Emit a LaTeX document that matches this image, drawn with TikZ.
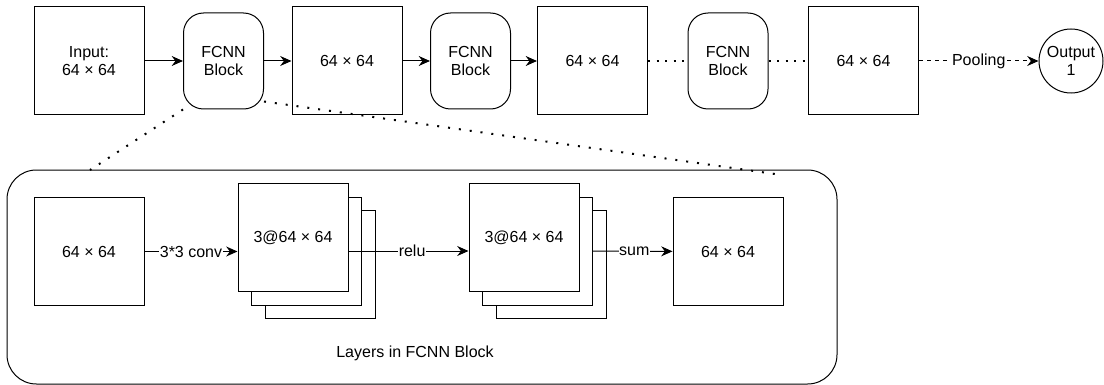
\documentclass[tikz,border=0pt]{standalone}
\usepackage{fontspec}
\setmainfont{Liberation Sans}
\usetikzlibrary{arrows.meta}

\tikzset{
  sqbox/.style={draw, line width=0.75pt, fill=white, minimum width=82.5pt,
    minimum height=81pt, inner sep=0pt, align=center},
  fcnn/.style={draw, line width=0.75pt, rounded corners=15pt, minimum width=60pt,
    minimum height=72pt, inner sep=0pt, align=center},
  arr/.style={line width=0.75pt, -{Stealth[length=8.5pt, width=7.5pt, inset=2.8pt]}},
  dotrow/.style={line width=1.5pt, dash pattern=on 1.5pt off 4.9pt},
  dotzoom/.style={line width=1.5pt, dash pattern=on 1.5pt off 6.7pt},
  elabel/.style={fill=white, inner sep=0.5pt},
}

\begin{document}
\begin{tikzpicture}[x=0.75pt, y=-0.75pt, font=\fontsize{12pt}{14pt}\selectfont]
\useasboundingbox (0,0) rectangle (1104,385);

% Main pipeline
\node[sqbox] (inp) at (89,61) {Input:\\64 × 64};
\node[fcnn] (fA) at (223.5,61) {FCNN\\Block};
\node[sqbox] (bA) at (347,61) {64 × 64};
\node[fcnn] (fB) at (470.5,61) {FCNN\\Block};
\node[sqbox] (bB) at (592.5,61) {64 × 64};
\node[fcnn] (fC) at (728,61) {FCNN\\Block};
\node[sqbox] (bC) at (863.5,61) {64 × 64};
\node[draw, circle, line width=0.75pt, minimum size=48pt, inner sep=0pt, align=center]
  (out) at (1071,61) {Output\\1};

\draw[arr] (inp) -- (fA);
\draw[arr] (fA) -- (bA);
\draw[arr] (bA) -- (fB);
\draw[arr] (fB) -- (bB);
\draw[dotrow] (bB) -- (fC);
\draw[dotrow] (fC) -- (bC);
\draw[arr, dash pattern=on 3pt off 3pt] (bC) -- node[elabel] {Pooling} (out);

% Zoomed view of one block
\node[draw, line width=0.75pt, rounded corners=22pt, minimum width=622.5pt,
  minimum height=160.5pt] (zoom) at (422,277) {};
\coordinate (zl) at (90,170);
\coordinate (zr) at (775,174);
\draw[dotzoom] (fA.south west) -- (zl);
\draw[dotzoom] (fA.-45) -- (zr);

% Layers inside the block
\node[sqbox] (inB) at (89,251.5) {64 × 64};
\node[sqbox] (cC) at (320,264.5) {};
\node[sqbox] (cB) at (306.5,251) {};
\node[sqbox] (cA) at (293,237.5) {3@64 × 64};
\node[sqbox] (rC) at (551,264.5) {};
\node[sqbox] (rB) at (537.5,251) {};
\node[sqbox] (rA) at (524,237.5) {3@64 × 64};
\node[sqbox] (outB) at (728,251.5) {64 × 64};

\draw[arr] (inB) -- node[elabel, pos=0.5] {3*3 conv} (inB -| cA.west);
\draw[arr] (cA.east |- cB) -- node[elabel, pos=0.53] {relu} (rA.west |- rB);
\draw[arr] (rB) -- node[elabel, pos=0.52] {sum} (outB);

\node (cap) at (415,353) {Layers in FCNN Block};

\end{tikzpicture}
\end{document}
